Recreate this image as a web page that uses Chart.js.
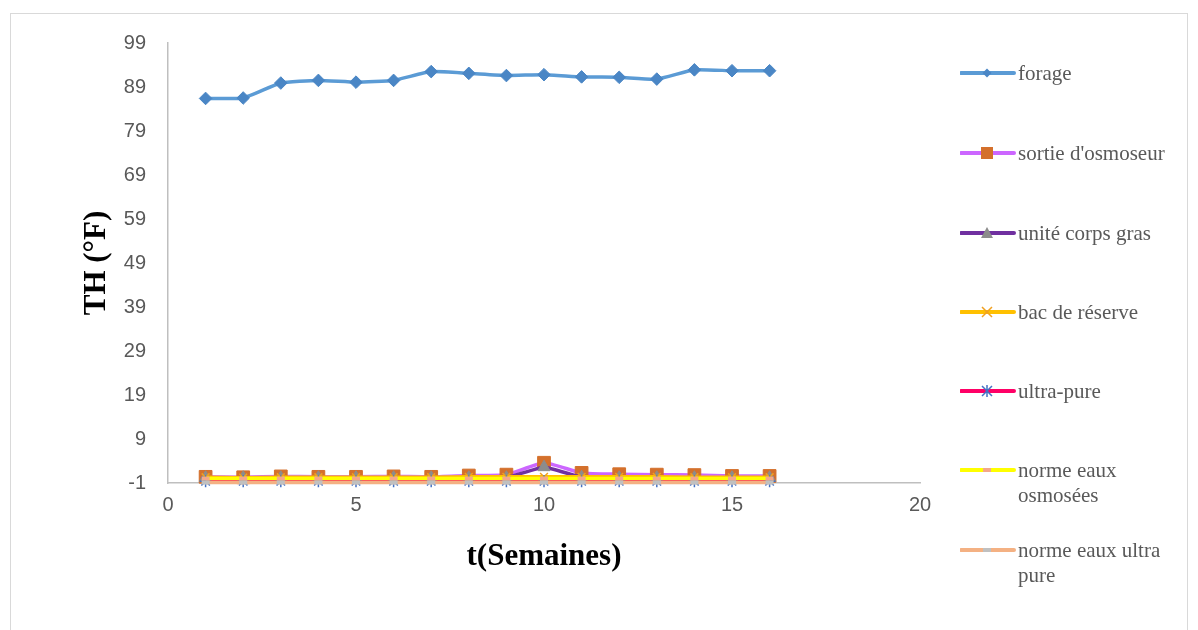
<!DOCTYPE html>
<html>
<head>
<meta charset="utf-8">
<script src="https://cdn.jsdelivr.net/npm/chart.js@4"></script>
<style>
  html, body { margin:0; padding:0; background:#fff; }
  #wrap { position:relative; width:1198px; height:630px; overflow:hidden; }
  #frame { position:absolute; left:10px; top:13px; width:1178px; height:700px; border:1px solid #D9D9D9; box-sizing:border-box; }
  canvas { position:absolute; left:0; top:0; }
  .leg { position:absolute; left:960px; font-family:"Liberation Serif", "Times New Roman", serif; font-size:21px; color:#595959; line-height:25px; }
  .leg svg { position:absolute; left:0; top:0; }
  .leg span { position:absolute; left:58px; top:0; white-space:nowrap; }
</style>
</head>
<body>
<div id="wrap">
  <div id="frame"></div>
  <canvas id="c" width="1198" height="630"></canvas>
  <div id="legend"></div>
</div>
<script>
// ---- data ----
const weeks = [1, 2, 3, 4, 5, 6, 7, 8, 9, 10, 11, 12, 13, 14, 15, 16];
const forage = [86.4, 86.5, 89.9, 90.5, 90.1, 90.5, 92.5, 92.1, 91.6, 91.8, 91.3, 91.2, 90.8, 92.9, 92.7, 92.7];
const sortieOsmoseur = [0.4, 0.3, 0.5, 0.4, 0.4, 0.5, 0.4, 0.7, 0.9, 3.6, 1.3, 1.0, 0.9, 0.8, 0.6, 0.6];
const uniteCorpsGras = [0.2, 0.2, 0.2, 0.2, 0.2, 0.2, 0.2, 0.2, 0.2, 2.6, 0.3, 0.2, 0.2, 0.2, 0.2, 0.2];
const bacReserve = [0.3, 0.2, 0.3, 0.3, 0.3, 0.3, 0.3, 0.4, 0.4, 0.4, 0.4, 0.4, 0.4, 0.3, 0.3, 0.3];
const ultraPure = [-0.6, -0.6, -0.6, -0.6, -0.6, -0.6, -0.6, -0.6, -0.6, -0.6, -0.6, -0.6, -0.6, -0.6, -0.6, -0.6];
const normeOsmosees = [0, 0, 0, 0, 0, 0, 0, 0, 0, 0, 0, 0, 0, 0, 0, 0];
const normeUltraPure = [-0.9, -0.9, -0.9, -0.9, -0.9, -0.9, -0.9, -0.9, -0.9, -0.9, -0.9, -0.9, -0.9, -0.9, -0.9, -0.9];
const yTickValues = [-1, 9, 19, 29, 39, 49, 59, 69, 79, 89, 99];
const xTickValues = [0, 5, 10, 15, 20];
const seriesNames = ["forage", "sortie d'osmoseur", "unité corps gras", "bac de réserve", "ultra-pure", ["norme eaux", "osmosées"], ["norme eaux ultra", "pure"]];

const pts = arr => arr.map((v, i) => ({x: weeks[i], y: v}));

const styles = [
  {line:'#5B9BD5', mk:'#4A86C5', ps:'rectRot', r:6.3},
  {line:'#CC66FF', mk:'#D4702C', ps:'rect', r:9},
  {line:'#7030A0', mk:'#8C8C8C', ps:'triangle', r:7},
  {line:'#FFC000', mk:'#F0A020', ps:'crossRot', r:5.5},
  {line:'#FF0066', mk:'#4472C4', ps:'star', r:6},
  {line:'#FFFF00', mk:'#F4A88A', ps:'line', r:4},
  {line:'#F4B183', mk:'#C0C0C0', ps:'line', r:4}
];
const allData = [forage, sortieOsmoseur, uniteCorpsGras, bacReserve, ultraPure, normeOsmosees, normeUltraPure];

const datasets = allData.map((arr, i) => {
  const s = styles[i];
  const filled = (s.ps === 'rectRot' || s.ps === 'rect' || s.ps === 'triangle');
  return {
    label: Array.isArray(seriesNames[i]) ? seriesNames[i].join(' ') : seriesNames[i],
    data: pts(arr),
    borderColor: s.line,
    backgroundColor: s.line,
    borderWidth: 3.5,
    tension: 0.15,
    pointStyle: s.ps,
    pointRadius: s.r,
    pointBackgroundColor: s.mk,
    pointBorderColor: s.mk,
    pointBorderWidth: s.ps === 'line' ? 4 : (filled ? 1 : 1.5),
    order: allData.length - i,
    clip: false
  };
});

new Chart(document.getElementById('c'), {
  type: 'line',
  data: { datasets },
  options: {
    responsive: false,
    animation: false,
    events: [],
    layout: { padding: { left: 0, top: 43, right: 278, bottom: 0 } },
    plugins: { legend: { display: false }, tooltip: { enabled: false } },
    scales: {
      x: {
        type: 'linear', min: 0, max: 20,
        grid: { display: false, drawTicks: false },
        border: { display: true, color: '#BFBFBF', width: 1.5 },
        afterBuildTicks: sc => { sc.ticks = xTickValues.map(v => ({value: v})); },
        ticks: { color: '#595959', font: { family: 'Liberation Sans', size: 20 }, padding: 10, maxRotation: 0 },
        afterFit: sc => { sc.height = 147; },
        title: { display: true, text: 't(Semaines)', color: '#000', font: { family: 'Liberation Serif', size: 31, weight: 'bold' }, padding: { top: 0, bottom: 54 } }
      },
      y: {
        type: 'linear', min: -1, max: 99,
        grid: { display: false, drawTicks: false },
        border: { display: true, color: '#BFBFBF', width: 1.5 },
        afterBuildTicks: sc => { sc.ticks = yTickValues.map(v => ({value: v})); },
        ticks: { color: '#595959', font: { family: 'Liberation Sans', size: 20 }, padding: 22 },
        afterFit: sc => { sc.width = 168; },
        title: { display: true, text: 'TH (°F)', color: '#000', font: { family: 'Liberation Serif', size: 31, weight: 'bold' }, padding: { top: 78, bottom: 0 } }
      }
    }
  }
});

// ---- legend (HTML) ----
const legTops = [73, 153, 233, 312, 391, 470, 550];
const leg = document.getElementById('legend');
function markerSvg(s) {
  const cx = 27, cy = 12;
  let m = '';
  if (s.ps === 'rectRot') m = `<polygon points="${cx},${cy-4.5} ${cx+4.5},${cy} ${cx},${cy+4.5} ${cx-4.5},${cy}" fill="${s.mk}"/>`;
  else if (s.ps === 'rect') m = `<rect x="${cx-6}" y="${cy-6}" width="12" height="12" fill="${s.mk}"/>`;
  else if (s.ps === 'triangle') m = `<polygon points="${cx},${cy-6} ${cx+6},${cy+5} ${cx-6},${cy+5}" fill="${s.mk}"/>`;
  else if (s.ps === 'crossRot') m = `<path d="M${cx-5},${cy-5}L${cx+5},${cy+5}M${cx+5},${cy-5}L${cx-5},${cy+5}" stroke="${s.mk}" stroke-width="1.5"/>`;
  else if (s.ps === 'star') m = `<path d="M${cx-5},${cy-5}L${cx+5},${cy+5}M${cx+5},${cy-5}L${cx-5},${cy+5}M${cx},${cy-6}L${cx},${cy+6}" stroke="${s.mk}" stroke-width="1.5"/>`;
  else if (s.ps === 'line') m = `<rect x="${cx-4}" y="${cy-2}" width="8" height="4" fill="${s.mk}"/>`;
  return `<svg width="56" height="24"><line x1="1" y1="${cy}" x2="54" y2="${cy}" stroke="${s.line}" stroke-width="4" stroke-linecap="round"/>${m}</svg>`;
}
seriesNames.forEach((n, i) => {
  const d = document.createElement('div');
  d.className = 'leg';
  d.style.top = (legTops[i] - 12) + 'px';
  const txt = Array.isArray(n) ? n.join('<br>') : n;
  d.innerHTML = markerSvg(styles[i]) + `<span>${txt}</span>`;
  leg.appendChild(d);
});
</script>
</body>
</html>
